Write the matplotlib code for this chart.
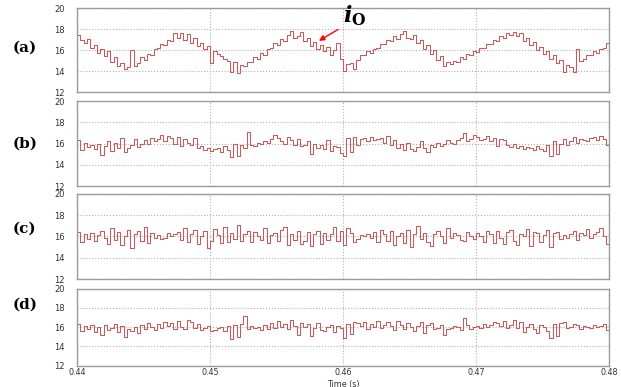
import numpy as np
import matplotlib.pyplot as plt

plt.rcParams['mathtext.fontset'] = 'dejavuserif'

# output current samples, one every 0.25 ms from 0.44 s to 0.48 s
ia = [17.4, 17.0, 16.7, 17.1, 16.2, 16.5, 15.7, 16.1, 15.4, 15.9, 14.9, 15.3, 14.5, 14.8, 14.2, 14.4,
      16.0, 14.5, 14.8, 15.3, 15.1, 15.6, 15.5, 16.1, 16.2, 16.6, 16.5, 17.0, 16.9, 17.6, 17.2, 17.6,
      17.0, 17.5, 16.7, 17.2, 16.4, 16.7, 16.1, 16.4, 14.8, 15.9, 15.6, 15.4, 15.2, 15.0, 13.9, 14.9,
      13.8, 14.6, 14.5, 14.9, 14.9, 15.3, 15.2, 15.7, 15.5, 16.1, 16.2, 16.7, 16.5, 17.1, 16.9, 17.4,
      17.8, 17.2, 17.3, 17.7, 16.9, 17.2, 16.4, 16.8, 16.1, 16.5, 15.9, 16.3, 15.5, 16.0, 16.7, 15.2,
      14.0, 14.7, 14.8, 14.2, 15.1, 15.5, 15.5, 15.9, 15.7, 16.1, 16.2, 16.6, 16.6, 17.0, 16.9, 17.3,
      17.1, 17.5, 17.8, 17.2, 17.1, 17.4, 16.7, 17.0, 16.1, 16.5, 15.6, 16.0, 15.1, 15.4, 14.5, 14.9,
      14.7, 15.0, 14.9, 15.3, 15.2, 15.6, 15.5, 15.9, 15.8, 16.2, 16.2, 16.6, 16.6, 17.0, 16.9, 17.3,
      17.2, 17.6, 17.4, 17.7, 17.3, 17.6, 16.9, 17.2, 16.5, 16.8, 16.0, 16.3, 15.6, 15.9, 15.2, 15.5,
      14.8, 15.1, 13.9, 14.6, 14.4, 13.9, 16.1, 15.0, 15.2, 15.5, 15.5, 15.9, 15.7, 16.1, 16.2, 16.7]

ib = [16.3, 15.4, 16.1, 15.7, 15.9, 15.5, 16.0, 14.9, 15.8, 16.2, 15.3, 16.1, 15.6, 16.5, 15.2, 15.6,
      15.9, 16.4, 15.7, 16.0, 16.3, 16.0, 16.5, 16.2, 16.4, 16.8, 16.2, 16.7, 16.5, 16.0, 16.6, 15.8,
      16.4, 16.1, 15.9, 16.5, 15.6, 15.8, 15.4, 15.6, 15.3, 15.5, 15.6, 15.2, 15.8, 15.4, 14.7, 16.0,
      14.8, 15.9, 15.6, 17.1, 15.9, 15.8, 16.1, 16.0, 16.2, 16.1, 16.4, 16.8, 16.5, 16.2, 16.0, 16.6,
      16.3, 15.9, 16.4, 15.8, 15.9, 16.2, 15.0, 16.0, 15.6, 15.9, 15.5, 16.3, 15.3, 15.8, 15.7, 15.1,
      14.8, 16.5, 15.2, 16.6, 15.9, 16.4, 16.5, 16.2, 16.6, 16.3, 16.4, 16.5, 16.1, 16.7, 15.9, 16.3,
      15.6, 16.0, 15.4, 16.1, 15.5, 15.3, 15.7, 16.2, 15.6, 15.2, 15.9, 15.7, 16.1, 15.8, 16.0, 16.3,
      16.1, 16.0, 16.3, 16.5, 17.0, 16.2, 16.4, 16.8, 16.6, 16.3, 16.4, 16.7, 16.2, 16.5, 15.8, 16.4,
      16.3, 15.9, 15.7, 16.0, 15.6, 15.8, 15.5, 15.7, 15.6, 15.4, 15.8, 15.5, 15.3, 15.9, 14.8, 16.2,
      15.0, 16.0, 16.4, 15.9, 16.2, 16.6, 16.1, 16.4, 16.3, 16.2, 16.5, 16.6, 16.3, 16.7, 16.4, 15.9]

ic = [16.4, 15.5, 16.2, 15.8, 16.3, 15.6, 16.1, 16.5, 15.9, 15.3, 16.8, 15.7, 16.4, 15.2, 16.0, 16.6,
      14.9, 16.2, 16.5, 15.6, 16.9, 15.4, 16.3, 15.9, 16.1, 15.8, 15.9, 16.3, 16.0, 16.2, 16.4, 15.7,
      16.8, 15.5, 16.2, 16.6, 15.3, 16.0, 16.5, 14.9, 15.6, 16.7, 16.1, 15.4, 16.9, 15.5, 16.3, 15.8,
      17.1, 15.6, 16.2, 16.5, 15.5, 16.4, 16.0, 15.7, 16.8, 15.4, 16.1, 16.3, 15.6, 16.6, 16.9, 15.2,
      16.2, 15.7, 16.5, 15.3, 15.6, 16.4, 15.1, 16.2, 16.5, 15.3, 16.3, 15.7, 16.2, 16.9, 15.6, 16.5,
      15.2, 16.8, 16.3, 15.5, 15.8, 16.1, 16.0, 16.2, 15.9, 16.4, 15.5, 16.6, 16.2, 15.6, 16.5, 15.2,
      16.0, 16.3, 15.4, 16.6, 15.0, 16.2, 17.0, 15.8, 16.3, 15.5, 15.1, 16.2, 16.5, 16.0, 15.4, 16.8,
      15.9, 16.3, 16.1, 15.7, 15.6, 16.4, 16.0, 15.8, 16.3, 16.0, 15.5, 16.5, 16.2, 15.4, 16.5, 15.9,
      15.3, 16.4, 16.6, 15.6, 15.2, 16.2, 16.0, 16.7, 15.1, 16.4, 16.3, 15.5, 16.1, 16.6, 15.0, 16.3,
      16.4, 15.8, 16.1, 15.9, 16.2, 16.5, 15.7, 16.3, 16.1, 16.7, 15.9, 16.2, 16.4, 16.8, 16.0, 15.3]

id_ = [16.3, 15.6, 16.1, 15.8, 16.2, 15.5, 16.0, 15.2, 16.2, 15.7, 15.9, 16.3, 15.5, 16.1, 15.0, 15.8,
       15.6, 16.0, 15.4, 16.2, 15.8, 16.4, 16.0, 15.7, 16.3, 15.9, 16.5, 16.1, 16.4, 15.8, 16.6, 16.0,
       15.8, 16.7, 16.5, 15.9, 16.3, 15.7, 15.9, 16.1, 15.6, 15.7, 15.9, 16.0, 15.6, 16.1, 14.8, 16.2,
       15.0, 16.3, 17.2, 15.8, 16.1, 15.9, 16.0, 15.7, 16.2, 15.8, 16.4, 15.9, 16.6, 16.0, 16.3, 15.8,
       16.7, 16.1, 15.2, 16.4, 16.0, 16.3, 15.1, 15.9, 16.4, 15.7, 15.6, 16.0, 16.2, 15.5, 16.1, 15.9,
       14.9, 16.3, 15.3, 16.5, 16.4, 16.1, 16.5, 15.8, 16.3, 16.0, 16.6, 15.9, 16.2, 16.5, 16.1, 15.7,
       16.6, 16.2, 15.8, 16.4, 16.0, 15.6, 16.1, 16.5, 15.4, 16.2, 16.4, 15.8, 15.9, 16.2, 15.2, 15.8,
       15.9, 16.1, 16.0, 15.7, 17.0, 16.2, 15.8, 16.0, 16.1, 15.9, 16.3, 16.0, 16.2, 16.5, 16.4, 16.1,
       16.6, 15.9, 16.2, 16.7, 15.9, 16.5, 15.5, 16.0, 16.3, 15.8, 15.4, 16.2, 16.0, 15.6, 14.9, 16.3,
       15.1, 16.4, 16.5, 15.9, 16.0, 16.3, 16.2, 15.8, 16.1, 16.0, 15.9, 16.2, 16.0, 16.1, 16.3, 15.7]

panels = ['(a)', '(b)', '(c)', '(d)']
series = [ia, ib, ic, id_]

t = np.linspace(0.44, 0.48, len(ia) + 1)

fig = plt.figure(figsize=(6.21, 3.87), dpi=100)

# axes boxes in figure fraction (left, bottom, width, height)
boxes = [(0.124, 0.762, 0.857, 0.217),
         (0.124, 0.519, 0.857, 0.220),
         (0.124, 0.279, 0.857, 0.220),
         (0.124, 0.055, 0.857, 0.199)]
label_y = [0.878, 0.630, 0.408, 0.212]

line_color = '#c85a5c'
axes = []
for k in range(4):
    ax = fig.add_axes(boxes[k])
    y = list(series[k]) + [series[k][-1]]
    ax.plot(t, y, drawstyle='steps-post', color=line_color, lw=0.75)
    ax.set_xlim(0.44, 0.48)
    ax.set_ylim(12, 20)
    ax.set_yticks([12, 14, 16, 18, 20])
    ax.set_xticks([0.44, 0.45, 0.46, 0.47, 0.48])
    ax.grid(True, linestyle=':', color='#b0b0b0', lw=0.8)
    for s in ax.spines.values():
        s.set_color('#9a9a9a')
        s.set_linewidth(1.0)
    ax.tick_params(length=0, labelsize=6, colors='#333333', pad=9)
    if k < 3:
        ax.tick_params(labelbottom=False)
    else:
        ax.tick_params(axis='x', pad=1.5, labelsize=5.8)
        ax.set_xticklabels(['0.44', '0.45', '0.46', '0.47', '0.48'])
    fig.text(0.04, label_y[k], panels[k], fontsize=11, fontweight='bold',
             family='DejaVu Serif', ha='center', va='center')
    axes.append(ax)

fig.text(0.553, -0.004, 'Time (s)', fontsize=5.8, color='#333333', ha='center', va='bottom')

axes[0].annotate('', xy=(0.4580, 16.75), xytext=(0.4598, 18.1),
                 arrowprops=dict(arrowstyle='-|>', color='red', lw=1.0, mutation_scale=8))
axes[0].text(0.4600, 19.3, r'$\boldsymbol{i}_{\mathbf{O}}$', fontsize=16,
             ha='left', va='center', color='black')

fig.savefig('out.png', dpi=100)
